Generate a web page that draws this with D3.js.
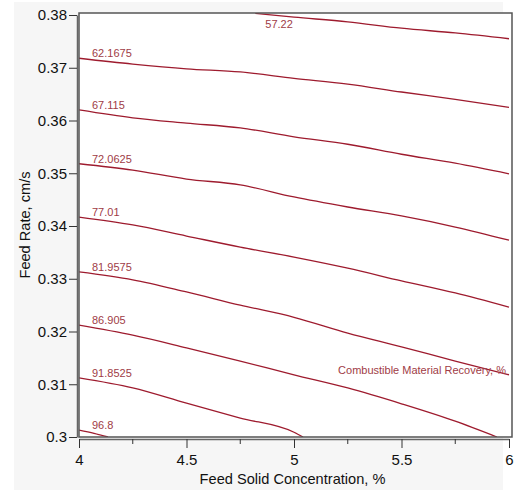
<!DOCTYPE html>
<html>
<head>
<meta charset="utf-8">
<script src="https://cdn.jsdelivr.net/npm/d3@7"></script>
<style>
  body { margin: 0; background: #fff; }
  text { font-family: "Liberation Sans", Arial, sans-serif; }
</style>
</head>
<body>
<script>
const width = 517;
const height = 494;

// ---- data ----
const xTicks = [4, 4.5, 5, 5.5, 6];
const xMinorTicks = [4.25, 4.75, 5.25, 5.75];
const yTicks = [0.30, 0.31, 0.32, 0.33, 0.34, 0.35, 0.36, 0.37, 0.38];
const yTickLabels = ["0.3", "0.31", "0.32", "0.33", "0.34", "0.35", "0.36", "0.37", "0.38"];

const levels = ["57.22", "62.1675", "67.115", "72.0625", "77.01", "81.9575", "86.905", "91.8525", "96.8"];

// contour lines, [feed solid %, feed rate cm/s]
const line5722 = [[4.82, 0.3803], [5, 0.3796], [5.25, 0.3787], [5.5, 0.3775], [5.75, 0.3766], [6, 0.3755]];
const line621675 = [[4, 0.3718], [4.25, 0.3707], [4.5, 0.3698], [4.75, 0.3692], [5, 0.3680], [5.25, 0.3669], [5.5, 0.3654], [5.75, 0.3640], [6, 0.3625]];
const line67115 = [[4, 0.3620], [4.25, 0.3605], [4.5, 0.3595], [4.75, 0.3586], [5, 0.3569], [5.25, 0.3555], [5.5, 0.3536], [5.75, 0.3519], [6, 0.3499]];
const line720625 = [[4, 0.3518], [4.25, 0.3506], [4.5, 0.3489], [4.75, 0.3478], [5, 0.3455], [5.25, 0.3436], [5.5, 0.3419], [5.75, 0.3398], [6, 0.3373]];
const line7701 = [[4, 0.3417], [4.25, 0.3402], [4.5, 0.3381], [4.75, 0.3360], [5, 0.3341], [5.25, 0.3320], [5.5, 0.3296], [5.75, 0.3273], [6, 0.3246]];
const line819575 = [[4, 0.3313], [4.25, 0.3298], [4.5, 0.3275], [4.75, 0.3250], [5, 0.3227], [5.25, 0.3197], [5.5, 0.3171], [5.75, 0.3144], [6, 0.3118]];
const line86905 = [[4, 0.3212], [4.25, 0.3193], [4.5, 0.3169], [4.75, 0.3144], [5, 0.3118], [5.25, 0.3093], [5.5, 0.3063], [5.75, 0.3030], [5.944, 0.3]];
const line918525 = [[4, 0.3112], [4.25, 0.3093], [4.5, 0.3064], [4.75, 0.3036], [5, 0.3009], [5.042, 0.3]];
const line968 = [[4, 0.3013], [4.07, 0.3007], [4.135, 0.3]];

const contourLines = [line5722, line621675, line67115, line720625, line7701, line819575, line86905, line918525, line968];
const responseName = "Combustible Material Recovery, %";

const svg = d3.select("body").append("svg")
  .attr("width", width)
  .attr("height", height);

// grey panel behind the plot
svg.append("rect")
  .attr("x", 14).attr("y", 2)
  .attr("width", 489).attr("height", 488)
  .attr("fill", "#f6f6f6");

const x = d3.scaleLinear().domain([4, 6]).range([79, 509]);
const y = d3.scaleLinear().domain([0.3, 0.38]).range([437, 15]);
const plotTop = 13, plotRight = 512;

svg.append("clipPath").attr("id", "plotclip")
  .append("rect")
  .attr("x", x(4)).attr("y", plotTop)
  .attr("width", plotRight - x(4)).attr("height", y(0.3) - plotTop);

svg.append("rect")
  .attr("x", x(4)).attr("y", plotTop)
  .attr("width", plotRight - x(4)).attr("height", y(0.3) - plotTop)
  .attr("fill", "#fff");

// x axis
const xAxis = svg.append("g")
  .attr("transform", "translate(0," + (y(0.3) + 2) + ")")
  .call(d3.axisBottom(x).tickValues(xTicks).tickSize(9).tickSizeOuter(0).tickFormat(d3.format("")));
xAxis.selectAll(".tick text").attr("font-size", 15).attr("dy", "0.9em").attr("fill", "#111")
  .style("font-family", "Liberation Sans, Arial, sans-serif");
xAxis.select(".domain").attr("stroke", "#666").attr("stroke-width", 1.5);
xAxis.selectAll(".tick line").attr("stroke", "#333");
svg.append("g")
  .attr("transform", "translate(0," + (y(0.3) + 2) + ")")
  .selectAll("line")
  .data(xMinorTicks)
  .join("line")
  .attr("x1", d => x(d)).attr("x2", d => x(d))
  .attr("y1", 0).attr("y2", 5)
  .attr("stroke", "#333");

// y axis
const yAxis = svg.append("g")
  .attr("transform", "translate(" + (x(4) - 2) + ",0)")
  .call(d3.axisLeft(y).tickValues(yTicks).tickSize(8).tickSizeOuter(0)
    .tickFormat((d, i) => yTickLabels[i]));
yAxis.selectAll(".tick text").attr("font-size", 15).attr("fill", "#111").attr("x", -10)
  .style("font-family", "Liberation Sans, Arial, sans-serif");
yAxis.select(".domain").attr("stroke", "#666").attr("stroke-width", 1.5);
yAxis.selectAll(".tick line").attr("stroke", "#333");

// contour lines
const lineGen = d3.line()
  .x(d => x(d[0]))
  .y(d => y(d[1]))
  .curve(d3.curveMonotoneX);

const g = svg.append("g").attr("clip-path", "url(#plotclip)");
g.selectAll("path.contour")
  .data(contourLines)
  .join("path")
  .attr("class", "contour")
  .attr("d", lineGen)
  .attr("fill", "none")
  .attr("stroke", "#9e1b2e")
  .attr("stroke-width", 1.3);

// contour labels
g.selectAll("text.level")
  .data(contourLines)
  .join("text")
  .attr("class", "level")
  .attr("x", d => x(d[0][0]) + (d[0][0] > 4 ? 10 : 13))
  .attr("y", d => y(d[0][1]) + (d[0][0] > 4 ? 15 : -1))
  .attr("font-size", 11)
  .attr("fill", "#a03c46")
  .text((d, i) => levels[i]);

svg.append("text")
  .attr("x", x(6) - 3)
  .attr("y", y(0.3118) - 1)
  .attr("text-anchor", "end")
  .attr("font-size", 11)
  .attr("fill", "#a03c46")
  .text(responseName);

// frame
svg.append("rect")
  .attr("x", x(4)).attr("y", plotTop)
  .attr("width", plotRight - x(4)).attr("height", y(0.3) - plotTop)
  .attr("fill", "none")
  .attr("stroke", "#555")
  .attr("stroke-width", 1.5);

// axis titles
svg.append("text")
  .attr("x", (x(4) + plotRight) / 2 - 3)
  .attr("y", 484)
  .attr("text-anchor", "middle")
  .attr("font-size", 14.6)
  .attr("fill", "#111")
  .text("Feed Solid Concentration, %");

svg.append("text")
  .attr("transform", "translate(30," + (plotTop + y(0.3)) / 2 + ") rotate(-90)")
  .attr("text-anchor", "middle")
  .attr("font-size", 14.6)
  .attr("fill", "#111")
  .text("Feed Rate, cm/s");
</script>
</body>
</html>
